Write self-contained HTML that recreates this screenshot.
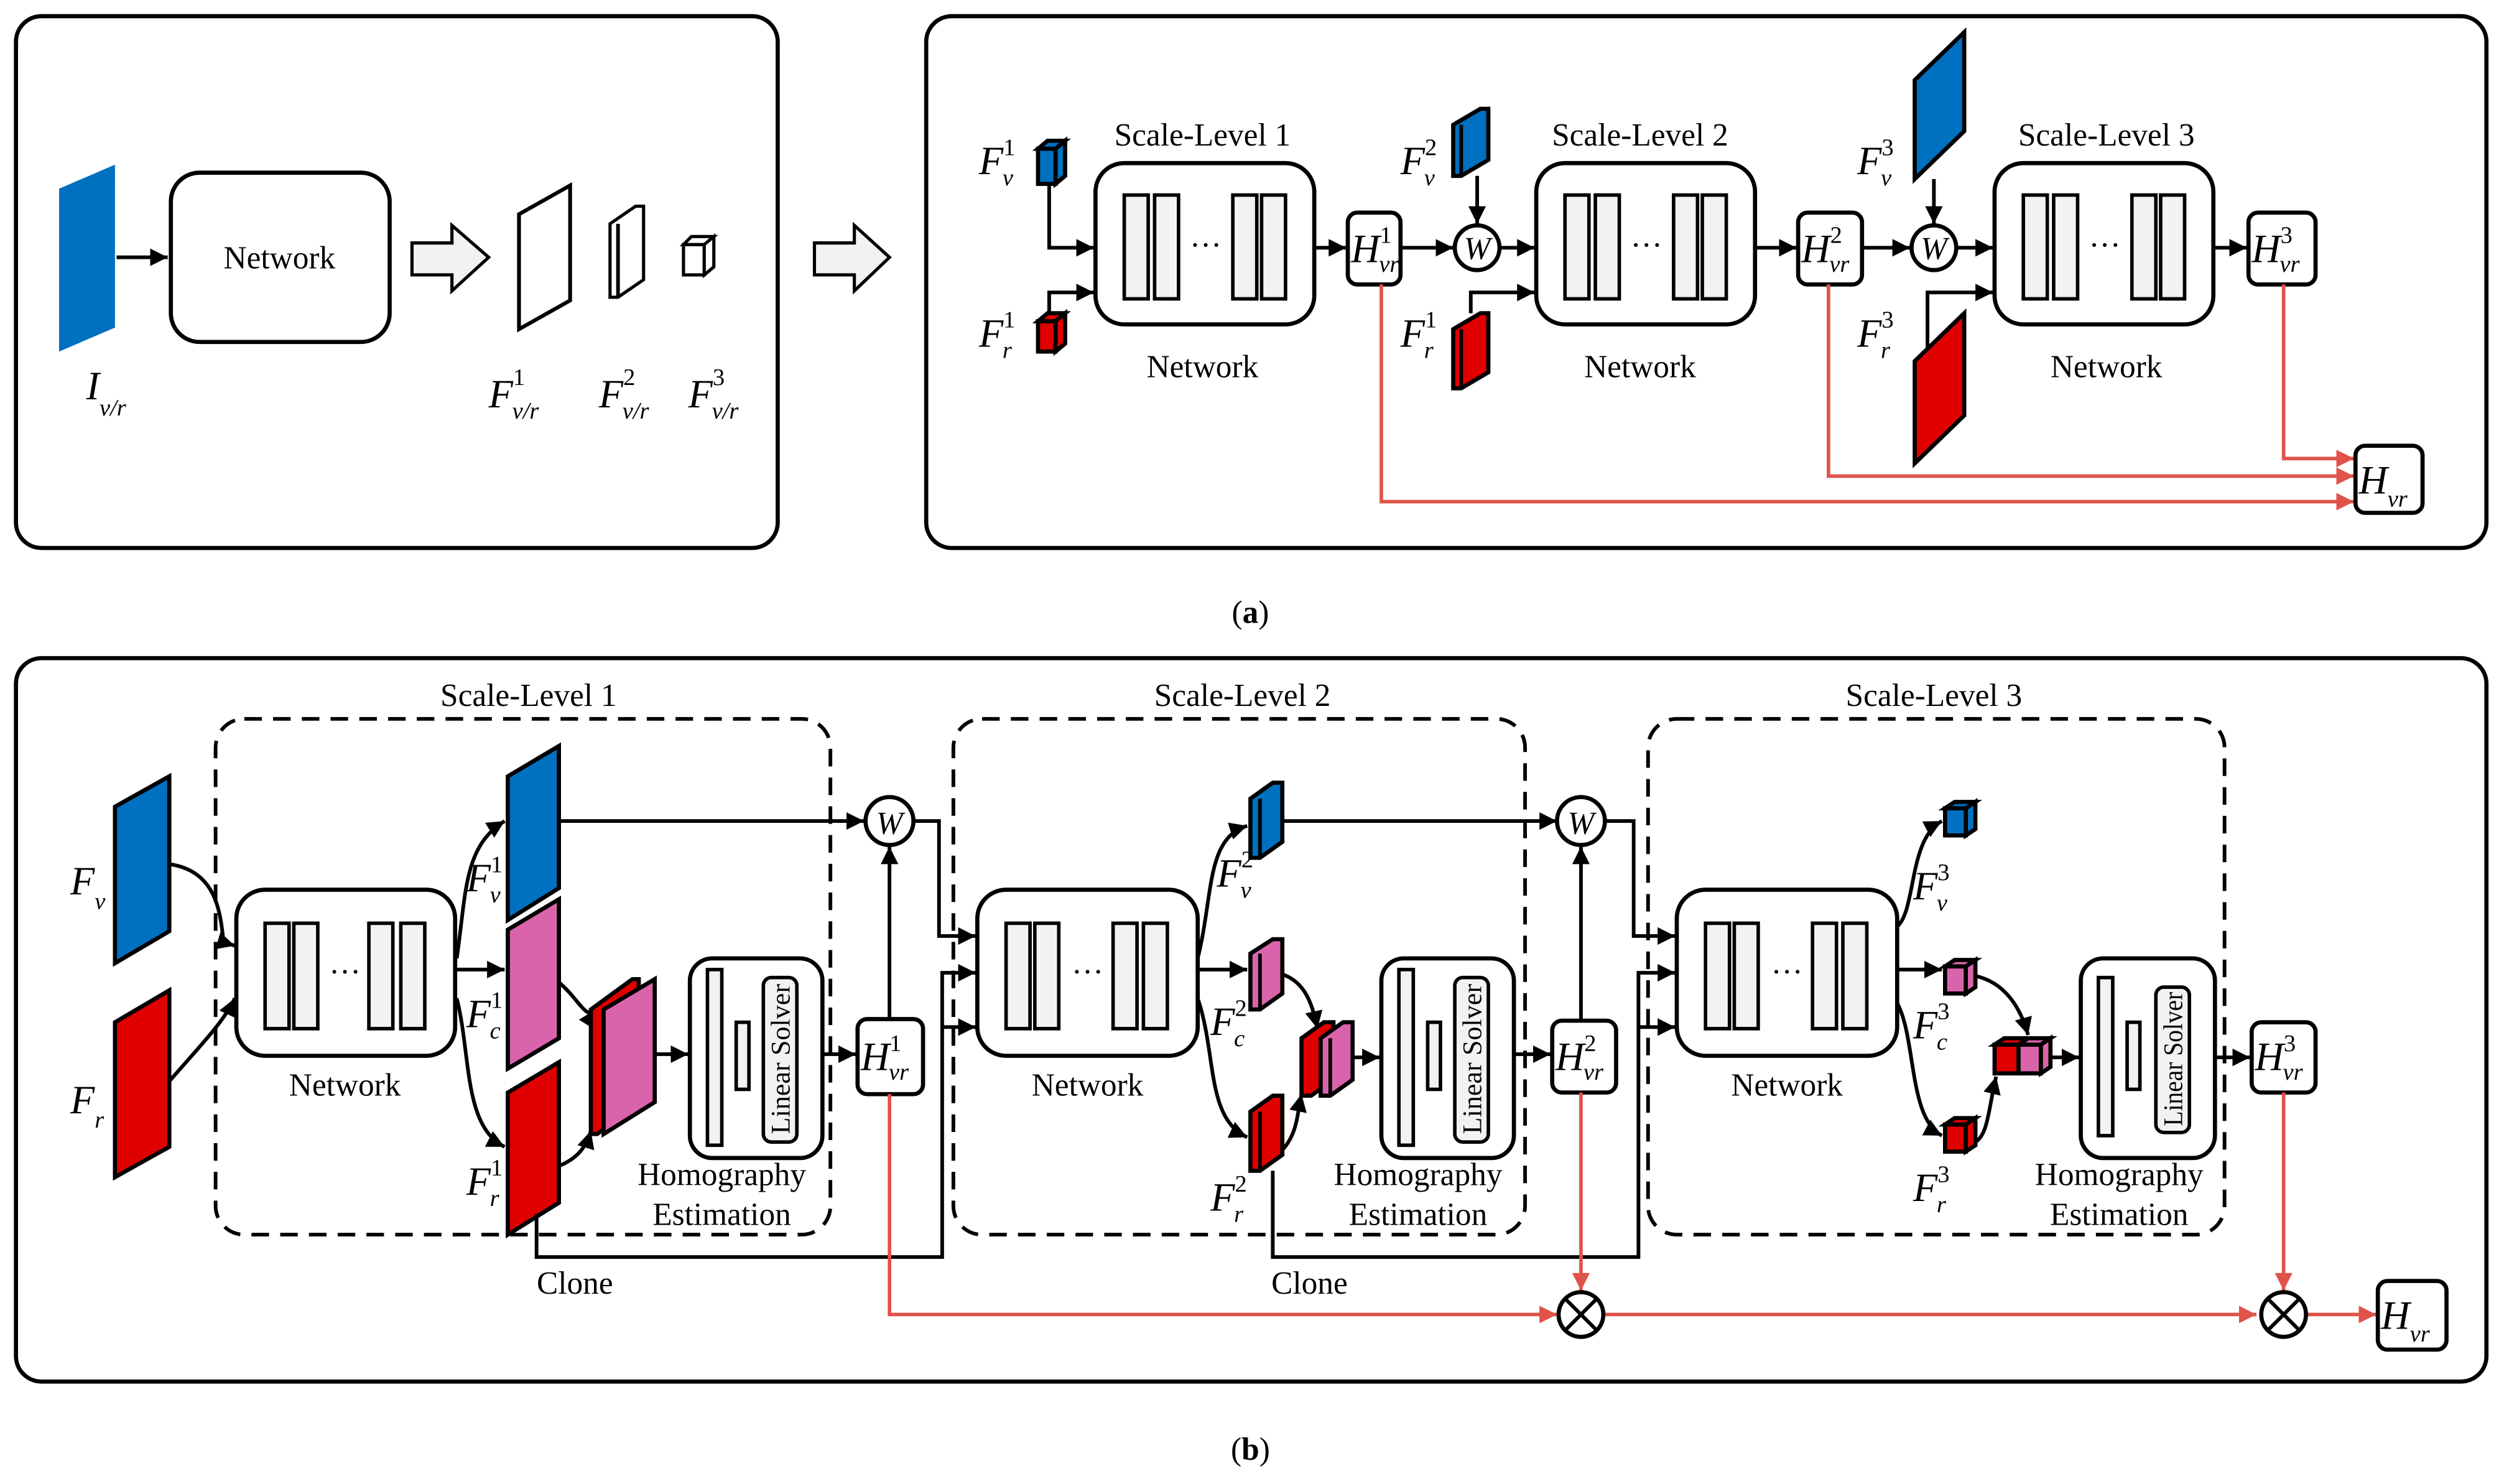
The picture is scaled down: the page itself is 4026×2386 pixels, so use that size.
<!DOCTYPE html>
<html><head><meta charset="utf-8"><style>
html,body{margin:0;padding:0;background:#fff}
svg{display:block}
text{font-family:"Liberation Serif",serif;fill:#000}
.t{font-size:20px}
.tn{font-size:20px}
.ls{font-size:17px}
.mi{font-size:25px;font-style:italic}
.sup{font-size:15px;font-style:normal}
.sub{font-size:15px;font-style:italic}
.ln{fill:none;stroke:#000;stroke-width:2.3}
.rl{fill:none;stroke:#E0524A;stroke-width:2.2}
.bx{fill:#fff;stroke:#000;stroke-width:2.6}
.bar{fill:#F2F2F2;stroke:#000;stroke-width:2.2}
.dash{fill:none;stroke:#000;stroke-width:2.3;stroke-dasharray:11 7}
.b{fill:#0070C0;stroke:#000;stroke-width:2.6}
.r{fill:#E00000;stroke:#000;stroke-width:2.6}
.p{fill:#DA64AB;stroke:#000;stroke-width:2.6}
</style></head><body>
<svg width="4026" height="2386" viewBox="0 0 1568 929" xmlns="http://www.w3.org/2000/svg">
<defs>
<marker id="a" viewBox="0 0 10 10" refX="10" refY="5" markerWidth="11" markerHeight="11" markerUnits="userSpaceOnUse" orient="auto"><path d="M0,0L10,5L0,10z" fill="#000"/></marker>
<marker id="ar" viewBox="0 0 10 10" refX="10" refY="5" markerWidth="11" markerHeight="11" markerUnits="userSpaceOnUse" orient="auto"><path d="M0,0L10,5L0,10z" fill="#E0524A"/></marker>
</defs>

<rect x="10" y="10" width="477" height="333" rx="16" fill="none" stroke="#000" stroke-width="2.6"/>
<polygon points="37,118 72,103 72,205 37,220" fill="#0070C0"/>
<line x1="73" y1="161" x2="105" y2="161" class="ln" marker-end="url(#a)"/>
<rect x="107" y="108" width="137" height="106" rx="18" class="bx"/>
<text x="175" y="168" class="tn" text-anchor="middle">Network</text>
<polygon points="258,152 283,152 283,141 306,161 283,182 283,172 258,172" fill="#F2F2F2" stroke="#000" stroke-width="2"/>
<polygon points="325,134 357,116 357,188 325,206" fill="#fff" stroke="#000" stroke-width="2.4"/>
<polygon points="382,140 398,129 403,129 403,175 387,186 382,186" fill="#fff" stroke="#000" stroke-width="2"/>
<line x1="387" y1="140" x2="387" y2="186" class="ln"/>
<rect x="428" y="153" width="13" height="19" fill="#fff" stroke="#000" stroke-width="2"/>
<polygon points="428,153 433,148 447,148 441,153" fill="#fff" stroke="#000" stroke-width="2"/>
<polygon points="441,153 447,148 447,167 441,172" fill="#fff" stroke="#000" stroke-width="2"/>
<text x="54" y="250" class="mi">I<tspan class="sub" dy="10">v/r</tspan></text>
<text x="306" y="255" class="mi">F<tspan class="sup" dx="0" dy="-14">1</tspan><tspan class="sub" dx="-8" dy="21">v/r</tspan></text>
<text x="375" y="255" class="mi">F<tspan class="sup" dx="0" dy="-14">2</tspan><tspan class="sub" dx="-8" dy="21">v/r</tspan></text>
<text x="431" y="255" class="mi">F<tspan class="sup" dx="0" dy="-14">3</tspan><tspan class="sub" dx="-8" dy="21">v/r</tspan></text>
<polygon points="510,152 535,152 535,141 557,161 535,182 535,172 510,172" fill="#F2F2F2" stroke="#000" stroke-width="2"/>

<rect x="580" y="10" width="977" height="333" rx="16" fill="none" stroke="#000" stroke-width="2.6"/>
<text x="753" y="91" class="t" text-anchor="middle">Scale-Level 1</text>
<text x="753" y="236" class="t" text-anchor="middle">Network</text>
<text x="613" y="109" class="mi">F<tspan class="sup" dy="-12">1</tspan><tspan class="sub" dx="-8" dy="19">v</tspan></text>
<text x="613" y="217" class="mi">F<tspan class="sup" dy="-12">1</tspan><tspan class="sub" dx="-8" dy="19">r</tspan></text>
<rect x="650" y="93" width="11" height="22" class="b" stroke-width="2"/><polygon points="650,93 656,88 667,88 661,93" class="b" stroke-width="2"/><polygon points="661,93 667,88 667,110 661,115" class="b" stroke-width="2"/>
<rect x="650" y="201" width="11" height="19" class="r" stroke-width="2"/><polygon points="650,201 656,196 667,196 661,201" class="r" stroke-width="2"/><polygon points="661,201 667,196 667,215 661,220" class="r" stroke-width="2"/>
<polyline points="657,115 657,155 685,155" class="ln" marker-end="url(#a)"/>
<polyline points="657,196 657,183 685,183" class="ln" marker-end="url(#a)"/>
<rect x="686" y="102" width="137" height="101" rx="18" class="bx"/>
<rect x="704" y="122" width="15" height="65" class="bar"/><rect x="723" y="122" width="15" height="65" class="bar"/><rect x="772" y="122" width="15" height="65" class="bar"/><rect x="790" y="122" width="15" height="65" class="bar"/>
<text x="755" y="160" class="t" text-anchor="middle">···</text>
<line x1="823" y1="155" x2="843" y2="155" class="ln" marker-end="url(#a)"/>
<rect x="844" y="133" width="33" height="45" rx="6" class="bx" stroke-width="2.4"/>
<text x="846" y="164" class="mi">H<tspan class="sup" dy="-12">1</tspan><tspan class="sub" dx="-8" dy="18">vr</tspan></text>
<line x1="877" y1="155" x2="910" y2="155" class="ln" marker-end="url(#a)"/>
<circle cx="925" cy="155" r="14" class="bx" stroke-width="2.2"/><text x="925" y="162" class="t" text-anchor="middle" font-style="italic">W</text>
<polygon points="910,78 927,68 932,68 932,100 915,110 910,110" class="b" stroke-width="2"/><line x1="915" y1="78" x2="915" y2="110" class="ln"/>
<line x1="925" y1="110" x2="925" y2="140" class="ln" marker-end="url(#a)"/>
<text x="877" y="109" class="mi">F<tspan class="sup" dy="-12">2</tspan><tspan class="sub" dx="-8" dy="19">v</tspan></text>
<text x="877" y="217" class="mi">F<tspan class="sup" dy="-12">1</tspan><tspan class="sub" dx="-8" dy="19">r</tspan></text>
<polygon points="910,206 927,196 932,196 932,233 915,243 910,243" class="r" stroke-width="2"/><line x1="915" y1="206" x2="915" y2="243" class="ln"/>
<polyline points="921,196 921,183 961,183" class="ln" marker-end="url(#a)"/>
<line x1="939" y1="155" x2="961" y2="155" class="ln" marker-end="url(#a)"/>
<text x="1027" y="91" class="t" text-anchor="middle">Scale-Level 2</text>
<text x="1027" y="236" class="t" text-anchor="middle">Network</text>
<rect x="962" y="102" width="137" height="101" rx="18" class="bx"/>
<rect x="980" y="122" width="15" height="65" class="bar"/><rect x="999" y="122" width="15" height="65" class="bar"/><rect x="1048" y="122" width="15" height="65" class="bar"/><rect x="1066" y="122" width="15" height="65" class="bar"/>
<text x="1031" y="160" class="t" text-anchor="middle">···</text>
<line x1="1099" y1="155" x2="1125" y2="155" class="ln" marker-end="url(#a)"/>
<rect x="1126" y="133" width="40" height="45" rx="6" class="bx" stroke-width="2.4"/>
<text x="1128" y="164" class="mi">H<tspan class="sup" dy="-12">2</tspan><tspan class="sub" dx="-8" dy="18">vr</tspan></text>
<line x1="1166" y1="155" x2="1196" y2="155" class="ln" marker-end="url(#a)"/>
<circle cx="1211" cy="155" r="14" class="bx" stroke-width="2.2"/><text x="1211" y="162" class="t" text-anchor="middle" font-style="italic">W</text>
<polygon points="1199,50 1230,20 1230,82 1199,112" class="b"/>
<line x1="1211" y1="112" x2="1211" y2="140" class="ln" marker-end="url(#a)"/>
<polygon points="1199,226 1230,196 1230,260 1199,290" class="r"/>
<polyline points="1207,218 1207,183 1248,183" class="ln" marker-end="url(#a)"/>
<line x1="1225" y1="155" x2="1248" y2="155" class="ln" marker-end="url(#a)"/>
<text x="1163" y="109" class="mi">F<tspan class="sup" dy="-12">3</tspan><tspan class="sub" dx="-8" dy="19">v</tspan></text>
<text x="1163" y="217" class="mi">F<tspan class="sup" dy="-12">3</tspan><tspan class="sub" dx="-8" dy="19">r</tspan></text>
<text x="1319" y="91" class="t" text-anchor="middle">Scale-Level 3</text>
<text x="1319" y="236" class="t" text-anchor="middle">Network</text>
<rect x="1249" y="102" width="137" height="101" rx="18" class="bx"/>
<rect x="1267" y="122" width="15" height="65" class="bar"/><rect x="1286" y="122" width="15" height="65" class="bar"/><rect x="1335" y="122" width="15" height="65" class="bar"/><rect x="1353" y="122" width="15" height="65" class="bar"/>
<text x="1318" y="160" class="t" text-anchor="middle">···</text>
<line x1="1386" y1="155" x2="1407" y2="155" class="ln" marker-end="url(#a)"/>
<rect x="1408" y="133" width="42" height="45" rx="6" class="bx" stroke-width="2.4"/>
<text x="1410" y="164" class="mi">H<tspan class="sup" dy="-12">3</tspan><tspan class="sub" dx="-8" dy="18">vr</tspan></text>
<polyline points="865,178 865,314 1474,314" class="rl" marker-end="url(#ar)"/>
<polyline points="1145,178 1145,298 1474,298" class="rl" marker-end="url(#ar)"/>
<polyline points="1430,178 1430,287 1474,287" class="rl" marker-end="url(#ar)"/>
<rect x="1475" y="279" width="42" height="42" rx="6" class="bx" stroke-width="2.4"/>
<text x="1477" y="309" class="mi">H<tspan class="sub" dy="8">vr</tspan></text>
<text x="783" y="390" class="t" text-anchor="middle" font-size="24">(<tspan font-weight="bold">a</tspan>)</text>

<rect x="10" y="412" width="1547" height="453" rx="16" fill="none" stroke="#000" stroke-width="2.6"/>
<rect x="135" y="450" width="385" height="323" rx="18" class="dash"/>
<rect x="597" y="450" width="358" height="323" rx="18" class="dash"/>
<rect x="1032" y="450" width="361" height="323" rx="18" class="dash"/>
<text x="331" y="442" class="t" text-anchor="middle">Scale-Level 1</text>
<text x="778" y="442" class="t" text-anchor="middle">Scale-Level 2</text>
<text x="1211" y="442" class="t" text-anchor="middle">Scale-Level 3</text>

<polygon points="72,505 106,486 106,583 72,603" class="b" stroke-width="1"/>
<polygon points="72,640 106,620 106,718 72,737" class="r" stroke-width="1"/>
<text x="44" y="560" class="mi">F<tspan class="sub" dy="9">v</tspan></text>
<text x="44" y="697" class="mi">F<tspan class="sub" dy="9">r</tspan></text>
<path d="M106,541 C135,545 138,570 140,590 L147,592" class="ln" marker-end="url(#a)"/>
<path d="M106,677 C125,655 140,640 147,625" class="ln" marker-end="url(#a)"/>

<rect x="148" y="557" width="137" height="104" rx="18" class="bx"/>
<rect x="166" y="578" width="15" height="66" class="bar"/><rect x="184" y="578" width="15" height="66" class="bar"/><rect x="231" y="578" width="15" height="66" class="bar"/><rect x="251" y="578" width="15" height="66" class="bar"/>
<text x="216" y="615" class="t" text-anchor="middle">···</text>
<text x="216" y="686" class="t" text-anchor="middle">Network</text>
<path d="M286,600 C292,560 290,530 316,514" class="ln" marker-end="url(#a)"/>
<line x1="286" y1="607" x2="316" y2="607" class="ln" marker-end="url(#a)"/>
<path d="M286,625 C295,660 290,705 316,718" class="ln" marker-end="url(#a)"/>
<polygon points="318,486 350,467 350,556 318,576" class="b"/>
<polygon points="318,582 350,563 350,650 318,669" class="p"/>
<polygon points="318,684 350,665 350,753 318,773" class="r"/>
<text x="292" y="558" class="mi">F<tspan class="sup" dy="-12">1</tspan><tspan class="sub" dx="-8" dy="19">v</tspan></text>
<text x="292" y="643" class="mi">F<tspan class="sup" dy="-12">1</tspan><tspan class="sub" dx="-8" dy="19">c</tspan></text>
<text x="292" y="748" class="mi">F<tspan class="sup" dy="-12">1</tspan><tspan class="sub" dx="-8" dy="19">r</tspan></text>
<path d="M350,615 C362,625 368,640 373,632" class="ln" marker-end="url(#a)"/>
<path d="M350,730 C362,725 367,718 370,708" class="ln" marker-end="url(#a)"/>
<polygon points="370,632 396,613 400,613 400,690 374,710 370,710" class="r"/>
<polygon points="378,632 410,613 410,690 378,710" class="p"/>
<line x1="410" y1="660" x2="431" y2="660" class="ln" marker-end="url(#a)"/>
<rect x="432" y="600" width="83" height="125" rx="14" class="bx"/>
<rect x="443" y="607" width="9" height="110" class="bar"/>
<rect x="461" y="640" width="8" height="42" class="bar"/>
<rect x="478" y="612" width="21" height="103" rx="5" class="bar"/>
<text transform="translate(494.5,663) rotate(-90)" class="ls" text-anchor="middle" textLength="94" lengthAdjust="spacingAndGlyphs">Linear Solver</text>
<text x="452" y="742" class="t" text-anchor="middle">Homography</text>
<text x="452" y="767" class="t" text-anchor="middle">Estimation</text>
<line x1="515" y1="660" x2="536" y2="660" class="ln" marker-end="url(#a)"/>
<rect x="537" y="638" width="41" height="47" rx="6" class="bx" stroke-width="2.4"/>
<text x="539" y="670" class="mi">H<tspan class="sup" dy="-12">1</tspan><tspan class="sub" dx="-8" dy="18">vr</tspan></text>
<line x1="557" y1="638" x2="557" y2="530" class="ln" marker-end="url(#a)"/>
<line x1="350" y1="514" x2="541" y2="514" class="ln" marker-end="url(#a)"/>
<circle cx="557" cy="514" r="15" class="bx" stroke-width="2.2"/><text x="557" y="522" class="t" text-anchor="middle" font-style="italic">W</text>
<polyline points="572,514 588,514 588,586 611,586" class="ln" marker-end="url(#a)"/>
<polyline points="336,760 336,787 590,787 590,609 611,609" class="ln" marker-end="url(#a)"/>
<polyline points="590,643 611,643" class="ln" marker-end="url(#a)"/>
<text x="360" y="810" class="t" text-anchor="middle">Clone</text>

<rect x="612" y="557" width="138" height="104" rx="18" class="bx"/>
<rect x="630" y="578" width="15" height="66" class="bar"/><rect x="648" y="578" width="15" height="66" class="bar"/><rect x="697" y="578" width="15" height="66" class="bar"/><rect x="716" y="578" width="15" height="66" class="bar"/>
<text x="681" y="615" class="t" text-anchor="middle">···</text>
<text x="681" y="686" class="t" text-anchor="middle">Network</text>
<path d="M750,600 C760,560 755,525 781,517" class="ln" marker-end="url(#a)"/>
<line x1="750" y1="607" x2="781" y2="607" class="ln" marker-end="url(#a)"/>
<path d="M750,625 C762,660 755,700 781,712" class="ln" marker-end="url(#a)"/>
<polygon points="783,500 797,490 803,490 803,527 789,537 783,537" class="b" stroke-width="2"/><line x1="789" y1="500" x2="789" y2="537" class="ln"/>
<polygon points="783,597 797,588 803,588 803,622 789,632 783,632" class="p" stroke-width="2"/><line x1="789" y1="597" x2="789" y2="632" class="ln"/>
<polygon points="783,696 797,686 803,686 803,723 789,733 783,733" class="r" stroke-width="2"/><line x1="789" y1="696" x2="789" y2="733" class="ln"/>
<text x="762" y="555" class="mi">F<tspan class="sup" dy="-12">2</tspan><tspan class="sub" dx="-8" dy="19">v</tspan></text>
<text x="758" y="648" class="mi">F<tspan class="sup" dy="-12">2</tspan><tspan class="sub" dx="-8" dy="19">c</tspan></text>
<text x="758" y="758" class="mi">F<tspan class="sup" dy="-12">2</tspan><tspan class="sub" dx="-8" dy="19">r</tspan></text>
<path d="M803,610 C818,615 822,630 825,644" class="ln" marker-end="url(#a)"/>
<path d="M803,720 C812,710 812,700 815,685" class="ln" marker-end="url(#a)"/>
<polygon points="815,650 829,640 835,640 835,676 821,686 815,686" class="r" stroke-width="2"/>
<polygon points="827,650 841,640 847,640 847,676 833,686 827,686" class="p" stroke-width="2"/><line x1="833" y1="650" x2="833" y2="686" class="ln"/>
<line x1="847" y1="662" x2="864" y2="662" class="ln" marker-end="url(#a)"/>
<rect x="865" y="600" width="83" height="125" rx="14" class="bx"/>
<rect x="876" y="607" width="9" height="110" class="bar"/>
<rect x="894" y="640" width="8" height="42" class="bar"/>
<rect x="911" y="612" width="21" height="103" rx="5" class="bar"/>
<text transform="translate(927.5,663) rotate(-90)" class="ls" text-anchor="middle" textLength="94" lengthAdjust="spacingAndGlyphs">Linear Solver</text>
<text x="888" y="742" class="t" text-anchor="middle">Homography</text>
<text x="888" y="767" class="t" text-anchor="middle">Estimation</text>
<line x1="948" y1="660" x2="971" y2="660" class="ln" marker-end="url(#a)"/>
<rect x="972" y="639" width="40" height="45" rx="6" class="bx" stroke-width="2.4"/>
<text x="974" y="670" class="mi">H<tspan class="sup" dy="-12">2</tspan><tspan class="sub" dx="-8" dy="18">vr</tspan></text>
<line x1="990" y1="639" x2="990" y2="530" class="ln" marker-end="url(#a)"/>
<line x1="803" y1="514" x2="975" y2="514" class="ln" marker-end="url(#a)"/>
<circle cx="990" cy="514" r="15" class="bx" stroke-width="2.2"/><text x="990" y="522" class="t" text-anchor="middle" font-style="italic">W</text>
<polyline points="1005,514 1023,514 1023,586 1049,586" class="ln" marker-end="url(#a)"/>
<polyline points="797,733 797,787 1026,787 1026,609 1049,609" class="ln" marker-end="url(#a)"/>
<polyline points="1026,643 1049,643" class="ln" marker-end="url(#a)"/>
<text x="820" y="810" class="t" text-anchor="middle">Clone</text>

<rect x="1050" y="557" width="138" height="104" rx="18" class="bx"/>
<rect x="1068" y="578" width="15" height="66" class="bar"/><rect x="1086" y="578" width="15" height="66" class="bar"/><rect x="1135" y="578" width="15" height="66" class="bar"/><rect x="1154" y="578" width="15" height="66" class="bar"/>
<text x="1119" y="615" class="t" text-anchor="middle">···</text>
<text x="1119" y="686" class="t" text-anchor="middle">Network</text>
<path d="M1188,580 C1200,570 1195,525 1216,514" class="ln" marker-end="url(#a)"/>
<line x1="1188" y1="607" x2="1216" y2="607" class="ln" marker-end="url(#a)"/>
<path d="M1188,628 C1200,650 1195,700 1216,711" class="ln" marker-end="url(#a)"/>
<rect x="1218" y="506" width="13" height="17" class="b" stroke-width="2"/><polygon points="1218,506 1224,502 1237,502 1231,506" class="b" stroke-width="2"/><polygon points="1231,506 1237,502 1237,519 1231,523" class="b" stroke-width="2"/>
<rect x="1218" y="605" width="13" height="17" class="p" stroke-width="2"/><polygon points="1218,605 1224,601 1237,601 1231,605" class="p" stroke-width="2"/><polygon points="1231,605 1237,601 1237,618 1231,622" class="p" stroke-width="2"/>
<rect x="1218" y="704" width="13" height="17" class="r" stroke-width="2"/><polygon points="1218,704 1224,700 1237,700 1231,704" class="r" stroke-width="2"/><polygon points="1231,704 1237,700 1237,717 1231,721" class="r" stroke-width="2"/>
<rect x="1249" y="654" width="15" height="18" class="r" stroke-width="2"/><polygon points="1249,654 1255,650 1270,650 1264,654" class="r" stroke-width="2"/>
<rect x="1264" y="654" width="14" height="18" class="p" stroke-width="2"/><polygon points="1264,654 1270,650 1284,650 1278,654" class="p" stroke-width="2"/><polygon points="1278,654 1284,650 1284,668 1278,672" class="p" stroke-width="2"/>
<text x="1198" y="563" class="mi">F<tspan class="sup" dy="-12">3</tspan><tspan class="sub" dx="-8" dy="19">v</tspan></text>
<text x="1198" y="650" class="mi">F<tspan class="sup" dy="-12">3</tspan><tspan class="sub" dx="-8" dy="19">c</tspan></text>
<text x="1198" y="752" class="mi">F<tspan class="sup" dy="-12">3</tspan><tspan class="sub" dx="-8" dy="19">r</tspan></text>
<path d="M1237,611 C1255,615 1265,630 1270,648" class="ln" marker-end="url(#a)"/>
<path d="M1237,715 C1245,710 1245,695 1250,674" class="ln" marker-end="url(#a)"/>
<line x1="1284" y1="662" x2="1302" y2="662" class="ln" marker-end="url(#a)"/>
<rect x="1303" y="600" width="84" height="125" rx="14" class="bx"/>
<rect x="1314" y="612" width="9" height="99" class="bar"/>
<rect x="1332" y="640" width="8" height="42" class="bar"/>
<rect x="1350" y="618" width="21" height="91" rx="5" class="bar"/>
<text transform="translate(1366.5,663) rotate(-90)" class="ls" text-anchor="middle" textLength="84" lengthAdjust="spacingAndGlyphs">Linear Solver</text>
<text x="1327" y="742" class="t" text-anchor="middle">Homography</text>
<text x="1327" y="767" class="t" text-anchor="middle">Estimation</text>
<line x1="1387" y1="662" x2="1409" y2="662" class="ln" marker-end="url(#a)"/>
<rect x="1410" y="640" width="40" height="44" rx="6" class="bx" stroke-width="2.4"/>
<text x="1412" y="670" class="mi">H<tspan class="sup" dy="-12">3</tspan><tspan class="sub" dx="-8" dy="18">vr</tspan></text>

<polyline points="557,685 557,823 975,823" class="rl" marker-end="url(#ar)"/>
<line x1="990" y1="684" x2="990" y2="808" class="rl" marker-end="url(#ar)"/>
<line x1="1005" y1="823" x2="1413" y2="823" class="rl" marker-end="url(#ar)"/>
<line x1="1430" y1="684" x2="1430" y2="808" class="rl" marker-end="url(#ar)"/>
<line x1="1445" y1="823" x2="1488" y2="823" class="rl" marker-end="url(#ar)"/>
<circle cx="990" cy="823" r="14" class="bx" stroke-width="2.2"/>
<path d="M980,813L1000,833M1000,813L980,833" class="ln"/>
<circle cx="1430" cy="823" r="14" class="bx" stroke-width="2.2"/>
<path d="M1420,813L1440,833M1440,813L1420,833" class="ln"/>
<rect x="1489" y="802" width="43" height="43" rx="6" class="bx" stroke-width="2.4"/>
<text x="1491" y="832" class="mi">H<tspan class="sub" dy="8">vr</tspan></text>
<text x="783" y="914" class="t" text-anchor="middle" font-size="24">(<tspan font-weight="bold">b</tspan>)</text>
</svg>
</body></html>
